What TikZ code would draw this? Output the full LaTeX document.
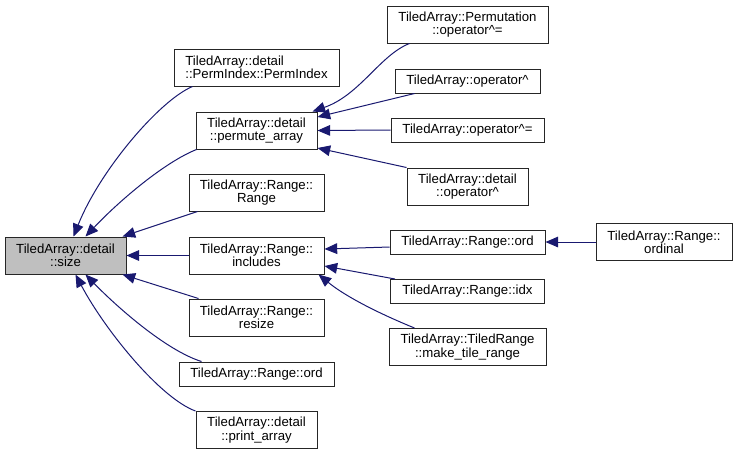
\documentclass[tikz,border=0pt]{standalone}
\usepackage{fontspec}
\setmainfont{Liberation Sans}
\usetikzlibrary{arrows.meta,calc}
\definecolor{edgeblue}{HTML}{191970}
\definecolor{hlgray}{HTML}{BFBFBF}
\begin{document}
\begin{tikzpicture}[x=0.75pt,y=-0.75pt,
  box/.style={draw=black!85,line width=0.75pt,inner sep=0pt,align=center,
    font=\fontsize{9.9}{9.9}\selectfont},
  edge/.style={draw=edgeblue,line width=0.75pt,
    -{Triangle[length=9.5pt,width=8pt]}}]
\useasboundingbox (0,0) rectangle (737,455);
% left column
\node[box,fill=hlgray,minimum width=121*0.75pt,minimum height=37*0.75pt] (size) at (65.5,255.5) {TiledArray::detail\\::size};
% middle column
\node[box,align=left,minimum width=165*0.75pt,minimum height=37*0.75pt] (pi) at (256.5,67.5) {TiledArray::detail\\::PermIndex::PermIndex};
\node[box,minimum width=121*0.75pt,minimum height=37*0.75pt] (pa) at (256.5,130.5) {TiledArray::detail\\::permute\_array};
\node[box,minimum width=135*0.75pt,minimum height=37*0.75pt] (rr) at (256.5,192.5) {TiledArray::Range::\\Range};
\node[box,minimum width=135*0.75pt,minimum height=37*0.75pt] (inc) at (256.5,255.5) {TiledArray::Range::\\includes};
\node[box,minimum width=135*0.75pt,minimum height=37*0.75pt] (rs) at (256.5,317.5) {TiledArray::Range::\\resize};
\node[box,minimum width=155*0.75pt,minimum height=24*0.75pt] (ordl) at (256.5,374) {TiledArray::Range::ord};
\node[box,minimum width=121*0.75pt,minimum height=37*0.75pt] (pra) at (256.5,430) {TiledArray::detail\\::print\_array};
% right column
\node[box,minimum width=161*0.75pt,minimum height=37*0.75pt] (perm) at (467.5,24.5) {TiledArray::Permutation\\::operator\^{}=};
\node[box,minimum width=145*0.75pt,minimum height=24*0.75pt] (op1) at (467.5,81) {TiledArray::operator\^{}};
\node[box,minimum width=153*0.75pt,minimum height=24*0.75pt] (op2) at (467.5,130) {TiledArray::operator\^{}=};
\node[box,minimum width=121*0.75pt,minimum height=37*0.75pt] (op3) at (467.5,186.5) {TiledArray::detail\\::operator\^{}};
\node[box,minimum width=155*0.75pt,minimum height=24*0.75pt] (ordr) at (467.5,242) {TiledArray::Range::ord};
\node[box,minimum width=154*0.75pt,minimum height=24*0.75pt] (idx) at (467.5,291.5) {TiledArray::Range::idx};
\node[box,minimum width=157*0.75pt,minimum height=37*0.75pt] (mtr) at (467.5,347) {TiledArray::TiledRange\\::make\_tile\_range};
\node[box,minimum width=136*0.75pt,minimum height=37*0.75pt] (ordn) at (664,242) {TiledArray::Range::\\ordinal};
% edges to size
\draw[edge] ($(pi.south west)+(19,0)$) .. controls (160,100) and (100,170) .. ($(size.north west)+(69,0)$);
\draw[edge] ($(pa.south west)+(1,0)$) .. controls (165,162) and (120,200) .. ($(size.north west)+(81,0)$);
\draw[edge] ($(rr.south west)+(9,0)$) -- ($(size.north east)+(-4,0)$);
\draw[edge] (inc.west) -- (size.east);
\draw[edge] ($(rs.north west)+(10,0)$) -- ($(size.south east)+(-4,0)$);
\draw[edge] ($(ordl.north west)+(23,0)$) .. controls (165,350) and (115,305) .. ($(size.south west)+(81,0)$);
\draw[edge] (pra.north west) .. controls (160,398) and (105,330) .. ($(size.south west)+(71,0)$);
% edges to permute_array
\draw[edge] ($(perm.south west)+(23,0)$) .. controls (380,55) and (360,95) .. ($(pa.north east)+(-5,0)$);
\draw[edge] ($(op1.south west)+(20,0)$) -- ($(pa.east)+(0,-13.5)$);
\draw[edge] (op2.west) -- (pa.east);
\draw[edge] (op3.north west) -- ($(pa.east)+(0,17.5)$);
% edges to includes
\draw[edge] ($(ordr.west)+(0,5)$) -- ($(inc.east)+(0,-6.5)$);
\draw[edge] ($(idx.north west)+(5,0)$) -- ($(inc.east)+(0,10.5)$);
\draw[edge] ($(mtr.north west)+(26,0)$) .. controls (390,318) and (350,300) .. ($(inc.south east)+(-6,0)$);
% edge to ord
\draw[edge] (ordn.west) -- (ordr.east);
\end{tikzpicture}
\end{document}
